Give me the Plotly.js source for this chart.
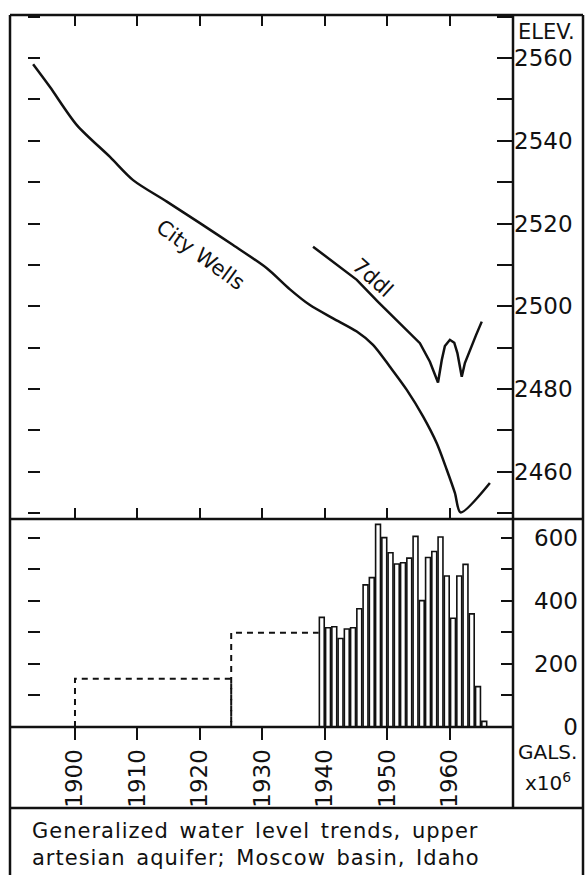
<!DOCTYPE html>
<html>
<head>
<meta charset="utf-8">
<script src="https://cdn.plot.ly/plotly-3.0.1.min.js"></script>
<style>
  html, body { margin: 0; padding: 0; background: #fff; }
  #chart { width: 586px; height: 875px; }
  g.annotation[data-index="5"] text, g.annotation[data-index="6"] text { letter-spacing: 1px; word-spacing: 3px; }
</style>
</head>
<body>
<div id="chart"></div>
<script>
// ---- Data ----
// City wells water level (year, elevation ft)
const cityYears = [1893.3, 1896.0, 1900.3, 1905.6, 1909.3, 1914.7, 1920.0, 1925.3, 1930.7, 1934.4, 1937.6, 1941.3, 1945.1, 1947.7, 1950.4, 1953.1, 1955.7, 1957.9, 1959.5, 1960.8, 1961.7, 1966.4];
const cityElev  = [2558.5, 2553.0, 2543.8, 2536.1, 2530.5, 2525.3, 2520.1, 2514.8, 2509.2, 2504.1, 2500.3, 2497.1, 2493.9, 2490.7, 2485.4, 2479.8, 2473.4, 2466.9, 2460.5, 2454.9, 2450.2, 2457.3];
// Well 7ddl water level
const wellYears = [1938.1, 1942.4, 1945.1, 1948.5, 1951.5, 1955.2, 1956.8, 1958.1, 1958.7, 1959.2, 1960.0, 1960.7, 1961.2, 1961.9, 1962.4, 1963.2, 1964.2, 1965.1];
const wellElev  = [2514.4, 2509.6, 2506.4, 2501.1, 2496.7, 2491.1, 2486.6, 2481.6, 2487.0, 2490.4, 2491.9, 2491.2, 2488.7, 2483.0, 2486.3, 2489.5, 2493.1, 2496.3];
// Annual pumpage, gallons x 10^6
const pumpYears = [1939, 1940, 1941, 1942, 1943, 1944, 1945, 1946, 1947, 1948, 1949, 1950, 1951, 1952, 1953, 1954, 1955, 1956, 1957, 1958, 1959, 1960, 1961, 1962, 1963, 1964, 1965];
const pumpage   = [348, 315, 318, 281, 311, 315, 375, 451, 474, 643, 601, 553, 517, 521, 536, 605, 401, 538, 557, 603, 479, 345, 479, 516, 359, 128, 18];
// Estimated average pumpage before records (dashed steps)
const stepYears  = [1900, 1925, 1939];
const stepLevels = [153, 299];
// Tick labels
const yearTicks  = [1900, 1910, 1920, 1930, 1940, 1950, 1960];
const elevTicks  = [2460, 2480, 2500, 2520, 2540, 2560];
const pumpTicks  = [0, 200, 400, 600];
const captionLines = ["Generalized water level trends, upper", "artesian aquifer; Moscow basin, Idaho"];

// ---- Geometry helpers (page px -> paper) ----
const W = 586, H = 875;
const L = 10, R = 3, T = 15, B = 67;
const pw = W - L - R, ph = H - T - B;
const px = x => (x - L) / pw;
const py = y => (H - B - y) / ph;

const xRange = [1889.6, 1970.1];
const elevRange = [2448.6, 2570.4];
const pumpRange = [0, 660];
const xEnd = px(513);

const FONT = 'DejaVu Sans, sans-serif';
const INK = '#111';

// dashed step path built from step arrays
const stepX = [stepYears[0], stepYears[0], stepYears[1], stepYears[1], null, stepYears[1], stepYears[1], stepYears[2]];
const stepY = [0, stepLevels[0], stepLevels[0], 0, null, 0, stepLevels[1], stepLevels[1]];

const dummy = (xa, ya) => ({ x: [xRange[0]], y: [null], xaxis: xa, yaxis: ya, type: 'scatter', mode: 'markers',
  marker: { opacity: 0 }, hoverinfo: 'skip' });

const traces = [
  { x: cityYears, y: cityElev, xaxis: 'x', yaxis: 'y', mode: 'lines', type: 'scatter',
    line: { color: INK, width: 2.5, shape: 'spline', smoothing: 0.8 }, hoverinfo: 'skip' },
  { x: wellYears, y: wellElev, xaxis: 'x', yaxis: 'y', mode: 'lines', type: 'scatter',
    line: { color: INK, width: 2.5 }, hoverinfo: 'skip' },
  { x: pumpYears.map(v => v + 0.5), y: pumpage, xaxis: 'x2', yaxis: 'y2', type: 'bar',
    width: 0.78, marker: { color: '#fff', line: { color: INK, width: 1.6 } }, hoverinfo: 'skip' },
  { x: stepX, y: stepY, xaxis: 'x2', yaxis: 'y2', mode: 'lines', type: 'scatter',
    line: { color: INK, width: 2, dash: '6px,5px' }, hoverinfo: 'skip', connectgaps: false },
  dummy('x', 'y3'), dummy('x2', 'y4'), dummy('x2', 'y5')
];

const topDom = [py(519), 1];
const botDom = [py(727), py(519)];

const ann = (text, x, y, size, extra) => Object.assign({ text, xref: 'paper', yref: 'paper', x: px(x), y: py(y),
  xanchor: 'center', yanchor: 'middle', showarrow: false, font: { family: FONT, size, color: INK } }, extra || {});

const layout = {
  width: W, height: H,
  margin: { l: L, r: R, t: T, b: B, pad: 0 },
  paper_bgcolor: '#fff', plot_bgcolor: '#fff',
  showlegend: false,
  font: { family: FONT, color: INK },
  xaxis: { domain: [0, xEnd], range: xRange, anchor: 'y', showgrid: false, zeroline: false,
    showline: false, tickvals: yearTicks, ticks: 'inside', ticklen: 11, tickwidth: 2, tickcolor: INK,
    mirror: 'ticks', showticklabels: false },
  xaxis2: { domain: [0, xEnd], range: xRange, anchor: 'y2', showgrid: false, zeroline: false,
    showline: false, tickvals: yearTicks, ticks: 'outside', ticklen: 12, tickwidth: 2, tickcolor: INK,
    tickangle: -90, tickfont: { family: FONT, size: 23, color: INK } },
  yaxis: { domain: topDom, range: elevRange, anchor: 'x', side: 'right', showgrid: false, zeroline: false,
    showline: false, tickvals: elevTicks, ticks: 'inside', ticklen: 16, tickwidth: 2, tickcolor: INK,
    minor: { dtick: 10, tick0: 2450, ticks: 'inside', ticklen: 16, tickwidth: 2, tickcolor: INK, showgrid: false },
    tickfont: { family: FONT, size: 23, color: INK } },
  yaxis3: { overlaying: 'y', range: elevRange, anchor: 'free', position: px(40), side: 'left',
    showgrid: false, zeroline: false, showline: false, dtick: 10, tick0: 2450, ticks: 'outside',
    ticklen: 12, tickwidth: 2, tickcolor: INK, showticklabels: false },
  yaxis2: { domain: botDom, range: pumpRange, anchor: 'x2', side: 'right', showgrid: false, zeroline: false,
    showline: false, dtick: 100, tick0: 0, ticks: 'inside', ticklen: 12, tickwidth: 2, tickcolor: INK,
    showticklabels: false },
  yaxis4: { overlaying: 'y2', range: pumpRange, anchor: 'free', position: px(578), side: 'left',
    showgrid: false, zeroline: false, showline: false, tickvals: pumpTicks, ticks: '',
    tickfont: { family: FONT, size: 23, color: INK } },
  yaxis5: { overlaying: 'y2', range: pumpRange, anchor: 'free', position: px(40), side: 'left',
    showgrid: false, zeroline: false, showline: false, tickvals: [100, 200, 300, 400, 500, 600],
    ticks: 'outside', ticklen: 12, tickwidth: 2, tickcolor: INK, showticklabels: false },
  shapes: [
    { type: 'line', xref: 'paper', yref: 'paper', x0: 0, x1: 0, y0: 1, y1: py(880), line: { color: INK, width: 2.5 } },
    { type: 'line', xref: 'paper', yref: 'paper', x0: 1, x1: 1, y0: 1, y1: py(880), line: { color: INK, width: 2.5 } },
    { type: 'line', xref: 'paper', yref: 'paper', x0: xEnd, x1: xEnd, y0: 1, y1: 0, line: { color: INK, width: 2.5 } },
    { type: 'line', xref: 'paper', yref: 'paper', x0: 0, x1: 1, y0: 1, y1: 1, line: { color: INK, width: 2.5 } },
    { type: 'line', xref: 'paper', yref: 'paper', x0: 0, x1: 1, y0: py(519), y1: py(519), line: { color: INK, width: 2.5 } },
    { type: 'line', xref: 'paper', yref: 'paper', x0: 0, x1: xEnd, y0: py(727), y1: py(727), line: { color: INK, width: 2.5 } },
    { type: 'line', xref: 'paper', yref: 'paper', x0: 0, x1: 1, y0: 0, y1: 0, line: { color: INK, width: 2.5 } }
  ],
  annotations: [
    { text: 'City Wells', xref: 'x', yref: 'y', x: 1920.1, y: 2512.4, showarrow: false, textangle: 36,
      xanchor: 'center', yanchor: 'middle', font: { family: FONT, size: 21, color: INK } },
    { text: '7ddl', xref: 'x', yref: 'y', x: 1947.7, y: 2506.9, showarrow: false, textangle: 42,
      xanchor: 'center', yanchor: 'middle', font: { family: FONT, size: 21, color: INK } },
    ann('ELEV.', 546, 32, 21),
    ann('GALS.', 547, 752, 20, { borderpad: 0 }),
    ann('x10<sup>6</sup>', 548, 782, 20, { borderpad: 0 }),
    ann(captionLines[0], 30, 831, 21, { xanchor: 'left', align: 'left' }),
    ann(captionLines[1], 30, 858, 21, { xanchor: 'left', align: 'left' })
  ]
};

Plotly.newPlot('chart', traces, layout, { staticPlot: true, displayModeBar: false });
</script>
</body>
</html>
